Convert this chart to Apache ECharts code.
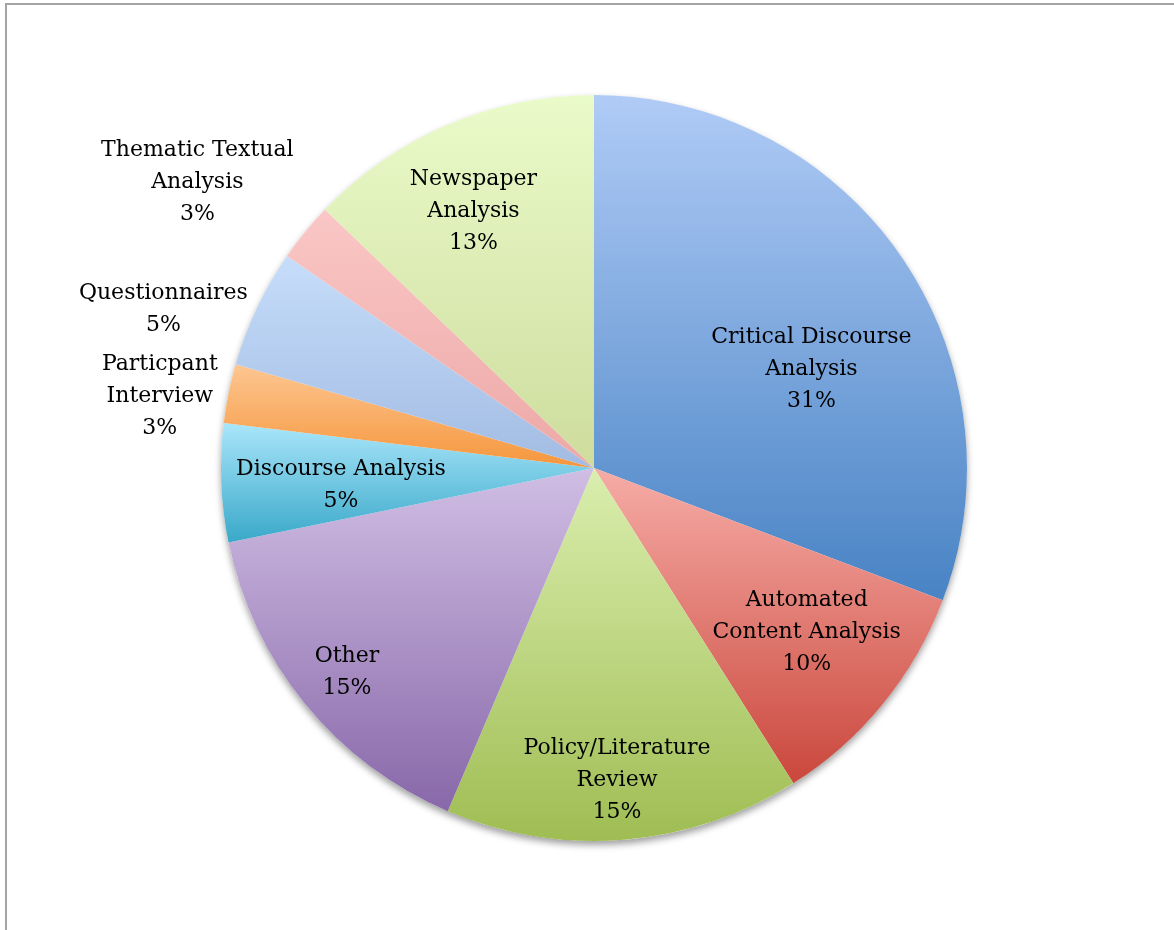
<!DOCTYPE html>
<html>
<head>
<meta charset="utf-8">
<title>Research Methods</title>
<script src="https://cdn.jsdelivr.net/npm/echarts@6/dist/echarts.min.js"></script>
<style>
  html, body { margin: 0; padding: 0; background: #ffffff; }
  #wrap { position: relative; width: 1174px; height: 930px; overflow: hidden; }
  #chart { width: 1174px; height: 930px; }
  #frame {
    position: absolute; left: 5px; top: 3px; right: -10px; bottom: -10px;
    border-left: 2px solid #a4a4a4; border-top: 2px solid #a4a4a4;
    pointer-events: none;
  }
</style>
</head>
<body>
<div id="wrap">
  <div id="chart"></div>
  <div id="frame"></div>
</div>
<script>
// Methods used across the reviewed studies (number of studies)
const categories = [
  'Critical Discourse\nAnalysis',
  'Automated\nContent Analysis',
  'Policy/Literature\nReview',
  'Other',
  'Discourse Analysis',
  'Particpant\nInterview',
  'Questionnaires',
  'Thematic Textual\nAnalysis',
  'Newspaper\nAnalysis'
];
const studyCounts = [12, 4, 6, 6, 2, 1, 2, 1, 5];

// Slice gradients, light at the top of each slice, darker at the bottom
const topColors = ['#b0cbf6', '#f6aca6', '#daeeae', '#d0bee4', '#aae6fa', '#fdc691', '#c6ddfa', '#fac7c6', '#eafbca'];
const bottomColors = ['#4883c4', '#ca473c', '#9fbd53', '#8868a9', '#39a8c9', '#f5963c', '#a2bbe2', '#eca8a6', '#cedc9d'];

// Label placement: distance from centre (fraction of radius) and small turn (degrees)
const labelRadius = [0.64, 0.72, 0.84, 0.86, 0.68, 1.18, 1.23, 1.31, 0.76];
const labelTurn = [10.2, -1.6, 0.4, -0.4, -1.7, -2.1, -5.2, -3.5, -2.1];

const CX = 594, CY = 468, R = 373;

const total = studyCounts.reduce((a, b) => a + b, 0);
const midAngles = [];
let acc = 0;
studyCounts.forEach(v => { midAngles.push((acc + v / 2) / total * 360); acc += v; });

const chart = echarts.init(document.getElementById('chart'), null, { renderer: 'canvas' });

const data = categories.map((name, i) => ({
  name: name,
  value: studyCounts[i],
  itemStyle: {
    color: new echarts.graphic.LinearGradient(0, 0, 0, 1, [
      { offset: 0, color: topColors[i] },
      { offset: 1, color: bottomColors[i] }
    ])
  }
}));

chart.setOption({
  backgroundColor: '#ffffff',
  animation: false,
  series: [
    {
      // soft drop shadow under the whole disc
      type: 'pie',
      silent: true,
      center: [CX, CY],
      radius: R,
      z: 1,
      label: { show: false },
      labelLine: { show: false },
      data: [{ value: 1, itemStyle: { color: '#ffffff', shadowBlur: 7, shadowOffsetY: 4, shadowColor: 'rgba(0,0,0,0.38)' } }]
    },
    {
      type: 'pie',
      center: [CX, CY],
      radius: R,
      startAngle: 90,
      clockwise: true,
      z: 2,
      avoidLabelOverlap: false,
      itemStyle: { borderWidth: 0 },
      label: {
        show: true,
        position: 'inside',
        color: '#000000',
        fontFamily: 'DejaVu Serif',
        fontSize: 22,
        lineHeight: 32,
        textBorderWidth: 0,
        align: 'center',
        formatter: p => p.name + '\n' + Math.round(p.percent) + '%'
      },
      labelLine: { show: false },
      labelLayout: p => {
        const i = p.dataIndex;
        const a = (midAngles[i] + labelTurn[i]) * Math.PI / 180;
        const r = R * labelRadius[i];
        return {
          x: CX + r * Math.sin(a),
          y: CY - r * Math.cos(a),
          align: 'center',
          verticalAlign: 'middle'
        };
      },
      emphasis: { disabled: true },
      data: data
    }
  ]
});
</script>
</body>
</html>
